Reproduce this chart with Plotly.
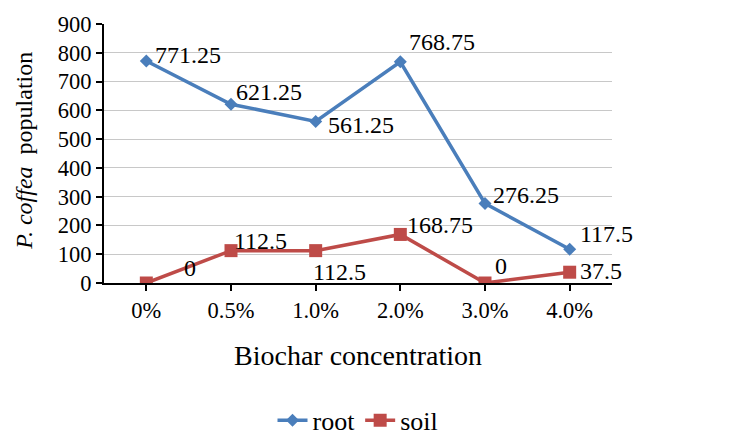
import plotly.graph_objects as go

categories = ["0%", "0.5%", "1.0%", "2.0%", "3.0%", "4.0%"]
root_values = [771.25, 621.25, 561.25, 768.75, 276.25, 117.5]
soil_values = [0, 112.5, 112.5, 168.75, 0, 37.5]
y_ticks = [0, 100, 200, 300, 400, 500, 600, 700, 800, 900]

BLUE = "#4A7EBB"
RED = "#BE4B48"
FONT = "Liberation Serif"

fig = go.Figure()
fig.add_trace(go.Scatter(
    x=categories, y=root_values, name="root", mode="lines+markers",
    line=dict(color=BLUE, width=3.5),
    marker=dict(symbol="diamond", size=10, color=BLUE),
))
fig.add_trace(go.Scatter(
    x=categories, y=soil_values, name="soil", mode="lines+markers",
    line=dict(color=RED, width=3.5),
    marker=dict(symbol="square", size=13, color=RED),
))

# label offsets (pixels) per point: (xshift, yshift)
root_off = [(7, 6), (3, 12), (10, -4), (7, 20), (6, 9), (8, 15)]
soil_off = [(36, 15), (1, 10), (-5, -21), (5, 9), (8, 17), (8, 1)]

for vals, offs in ((root_values, root_off), (soil_values, soil_off)):
    for cat, val, (dx, dy) in zip(categories, vals, offs):
        fig.add_annotation(x=cat, y=val, text=f"{val:g}", showarrow=False,
                           xanchor="left", yanchor="middle", xshift=dx, yshift=dy,
                           font=dict(family=FONT, size=24, color="#000"))

fig.add_annotation(x=0.5, y=-0.278, xref="paper", yref="paper",
                   text="Biochar concentration", showarrow=False,
                   xanchor="center", yanchor="middle",
                   font=dict(family=FONT, size=28, color="#000"))
fig.add_annotation(x=-0.158, y=0.51, xref="paper", yref="paper",
                   text="<i>P. coffea</i>  population", showarrow=False,
                   textangle=-90, xanchor="center", yanchor="middle",
                   font=dict(family=FONT, size=24, color="#000"))

fig.update_layout(
    width=739, height=437,
    margin=dict(l=104, r=127, t=24, b=154, autoexpand=False),
    paper_bgcolor="white", plot_bgcolor="white",
    font=dict(family=FONT, size=22, color="#000"),
    showlegend=True,
    legend=dict(orientation="h", x=0.5, xanchor="center", y=-0.53, yanchor="middle",
                font=dict(family=FONT, size=26, color="#000"),
                traceorder="normal"),
    xaxis=dict(
        type="category", range=[-0.5, 5.5],
        showline=True, linecolor="#000", linewidth=2,
        ticks="outside", ticklen=6, tickwidth=2, tickcolor="#000",
        showgrid=False, zeroline=False,
        tickfont=dict(family=FONT, size=22.5, color="#000"),
    ),
    yaxis=dict(
        range=[0, 900], tickvals=y_ticks,
        showline=True, linecolor="#000", linewidth=2,
        ticks="outside", ticklen=6, tickwidth=2, tickcolor="#000",
        showgrid=True, gridcolor="#C8C8C8", gridwidth=1, zeroline=False,
        tickfont=dict(family=FONT, size=22.5, color="#000"),
    ),
)

fig.write_html("out.html", config={"displayModeBar": False},
               post_script="document.body.style.margin='0';")
